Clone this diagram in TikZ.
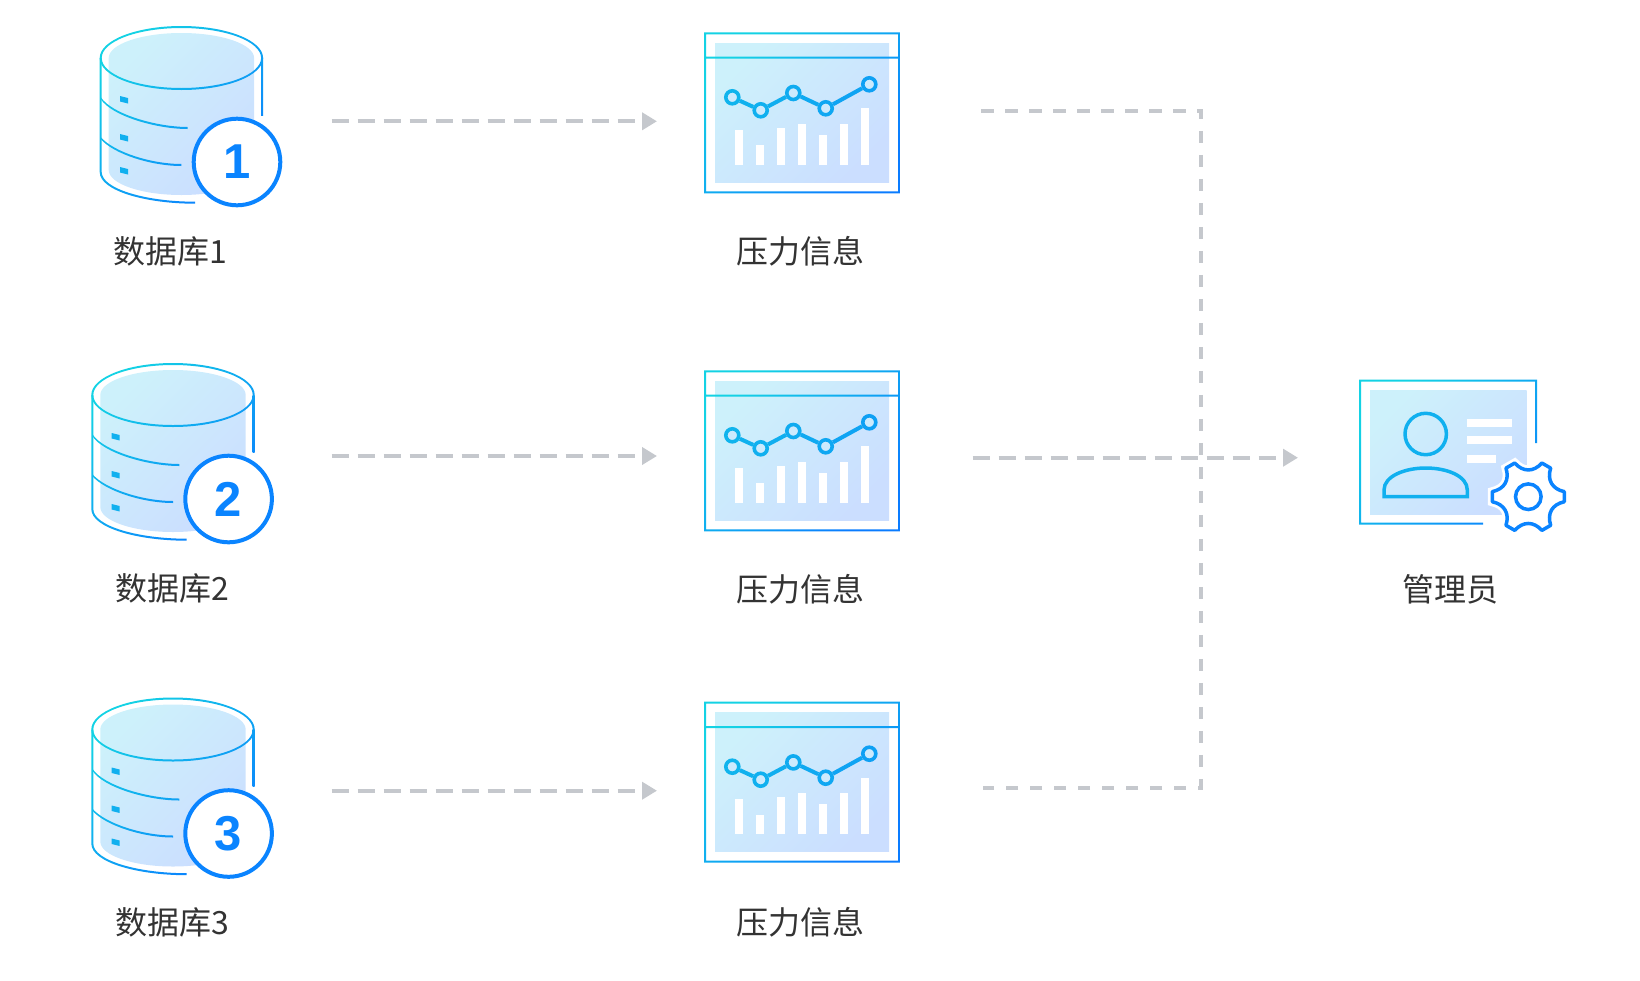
\documentclass[tikz,border=0pt]{standalone}
\usepackage{fontspec}
\setmainfont{Noto Sans CJK SC}
\newfontfamily\digitfont{Liberation Sans}
\usepackage{xcolor}
\usepackage{tikz}
\usetikzlibrary{arrows.meta, positioning}

\definecolor{strokeA}{HTML}{14D2E4}
\definecolor{strokeB}{HTML}{0A7CFF}
\definecolor{paleA}{HTML}{CDF1FB}
\definecolor{paleB}{HTML}{CBDEFF}
\definecolor{paleMid}{HTML}{CCEAFD}
\definecolor{badgeblue}{HTML}{0A84FF}
\definecolor{flowgray}{HTML}{C5C8CD}
\definecolor{inkgray}{HTML}{333333}

% gradient line: shade of box #1 seen through thin band #2
\newcommand{\inkband}[2]{\begin{scope}[even odd rule]\clip #2; \shade[inked] #1; \end{scope}}
\newcommand{\dbink}[1]{\inkband{(-90,-92) rectangle (90,92)}{#1}}

\tikzset{
  gearpath/.style={insert path={(8:36.3) \foreach \a in {0,60,...,300}{
    .. controls (\a+18:25) and (\a+42:25) .. (\a+52:36.3) -- (\a+68:36.3)} -- cycle}},
  pale/.style={top color=paleA, bottom color=paleB, shading angle=45},
  inked/.style={top color=strokeA, bottom color=strokeB, shading angle=45},
  spot/.style={circle, draw=strokeA!#1!strokeB, fill=paleMid, line width=3.6pt, inner sep=0pt, minimum size=13pt},
  trend/.style={draw=strokeA!#1!strokeB, line width=4pt},
  database/.pic={
    \shade[pale] (-72.7,-57) arc [start angle=180, end angle=360, x radius=72.7, y radius=25]
      -- (72.7,55) arc [start angle=0, end angle=180, x radius=72.7, y radius=25] -- cycle;
    \dbink{(0,-57) ellipse [x radius=81.7, y radius=32] (0,-57) ellipse [x radius=79.7, y radius=30]}
    \dbink{(-81.7,-57) -- (-81.7,57) .. controls (-81.7,76) and (-35,88.7) .. (13.6,88.7) -- (13.6,86.7)
      .. controls (-35,86.7) and (-79.7,74) .. (-79.7,57) -- (-79.7,-57) -- cycle}
    \dbink{(79.7,-57) rectangle (81.7,0)}
    \dbink{(-80.7,-18) .. controls (-70,-1) and (-25,12) .. (6.3,12) -- (6.3,14)
      .. controls (-25,14) and (-70,1) .. (-80.7,-16) -- cycle}
    \dbink{(-80.7,22) .. controls (-68,37) and (-30,49) .. (0,49) -- (0,51)
      .. controls (-30,51) and (-68,39) .. (-80.7,24) -- cycle}
    \foreach \dy in {0,38,71}
      \fill[strokeA!60!strokeB, yshift=-\dy] (-61.4,-19) -- (-53.4,-17) -- (-53.4,-11.5) -- (-61.4,-13.5) -- cycle;
    \node[circle, draw=badgeblue, line width=4pt, fill=white, minimum size=86.6pt, inner sep=0pt,
      text=badgeblue, font=\digitfont\fontsize{49}{49}\selectfont\bfseries] (-badge) at (55.6,47) {#1};
  },
  chart/.pic={
    \shade[pale] (-87,-69.5) rectangle (87,69.2);
    \foreach \t [count=\i from 0] in {17.2,32.5,15.2,11.2,21.9,11.2,-4.5}
      \fill[white] (-67.3+21*\i,\t) rectangle (-58.7+21*\i,52.2);
    \inkband{(-98,-81) rectangle (98,81)}{(-98,-80.5) rectangle (98,80.5) (-96,-78.5) rectangle (96,78.5)
      (-96,-56.1) rectangle (96,-54.1)}
    \node[spot=65] (-p1) at (-69.7,-15.5) {};
    \node[spot=60] (-p2) at (-41.3,-2.5) {};
    \node[spot=55] (-p3) at (-8.7,-19.8) {};
    \node[spot=50] (-p4) at (23.7,-4.5) {};
    \node[spot=42] (-p5) at (67.3,-28.5) {};
    \draw[trend=62] (-p1) -- (-p2);
    \draw[trend=58] (-p2) -- (-p3);
    \draw[trend=52] (-p3) -- (-p4);
    \draw[trend=46] (-p4) -- (-p5);
  },
  admincard/.pic={
    \shade[pale] (-93,-67) rectangle (63.7,57);
    \fill[white] (4,-37.7) rectangle (49,-29.7);
    \fill[white] (4,-21) rectangle (49,-13);
    \fill[white] (4,-2.3) rectangle (32.7,5.7);
    \inkband{(-108,-80) rectangle (108,80)}{(74,-14) -- (74,-77.3) -- (-104,-77.3) -- (-104,67.7) -- (20,67.7)
      -- (20,65.7) -- (-102,65.7) -- (-102,-75.3) -- (72,-75.3) -- (72,-14) -- cycle}
    \draw[strokeA!60!strokeB, line width=3.5pt] (-37.3,-23) circle [radius=20.7];
    \draw[strokeA!60!strokeB, line width=3.5pt] (-79,39.7) -- (-79,33) .. controls (-79,19) and (-58,11) .. (-37.3,11)
      .. controls (-16,11) and (4.3,19) .. (4.3,33) -- (4.3,39.7) -- cycle;
    \filldraw[white, line width=9pt, shift={(65.3,39.7)}, gearpath];
    \draw[badgeblue, fill=white, line width=3.5pt, line join=round, shift={(65.3,39.7)}, gearpath];
    \draw[badgeblue, line width=3.5pt] (65.3,39.7) circle [radius=12.8];
  },
}

\begin{document}
\begin{tikzpicture}[
  x=1pt, y=-1pt,
  dbbox/.style={minimum width=161.4pt, minimum height=176pt, inner sep=0pt, outer sep=0pt},
  chartbox/.style={minimum width=194pt, minimum height=159pt, inner sep=0pt, outer sep=0pt},
  adminbox/.style={minimum width=206pt, minimum height=156pt, inner sep=0pt, outer sep=0pt},
  caption/.style={text=inkgray, font=\fontsize{32}{34}\selectfont},
  flow/.style={draw=flowgray, line width=4pt, dash pattern=on 17pt off 9pt,
    -{Triangle[length=15pt, width=17pt, fill=flowgray]}},
  busline/.style={draw=flowgray, line width=4pt, dash pattern=on 12.5pt off 11.5pt},
]
\useasboundingbox (0,0) rectangle (1640,980);

% ===== databases =====
\node[dbbox] (db1) at (181.4,115) {};
\node[dbbox] (db2) at (173,452) {};
\node[dbbox] (db3) at (173,786.5) {};
\pic at (db1) {database=1};
\pic at (db2) {database=2};
\pic at (db3) {database=3};
\node[caption] (dblabel1) at (170,251) {数据库1};
\node[caption] (dblabel2) at (172,588) {数据库2};
\node[caption] (dblabel3) at (172,922.5) {数据库3};

% ===== pressure info =====
\node[chartbox] (chart1) at (802,112.8) {};
\node[chartbox] (chart2) at (802,450.8) {};
\node[chartbox] (chart3) at (802,782.2) {};
\pic at (chart1) {chart};
\pic at (chart2) {chart};
\pic at (chart3) {chart};
\node[caption] (chartlabel1) at (800.5,251) {压力信息};
\node[caption] (chartlabel2) at (800.5,589) {压力信息};
\node[caption] (chartlabel3) at (800.5,922.5) {压力信息};

% ===== admin =====
\node[adminbox] (admin) at (1463,457) {};
\pic at (admin) {admincard};
\node[caption] (adminlabel) at (1450,589) {管理员};

% ===== flows =====
\draw[flow] ([xshift=69.5,yshift=-6.3]db1.east) -- ([xshift=-48,yshift=-8.5]chart1.west);
\draw[flow] ([xshift=78,yshift=-4]db2.east) -- ([xshift=-48,yshift=-5.2]chart2.west);
\draw[flow] ([xshift=78,yshift=-4.2]db3.east) -- ([xshift=-48,yshift=-8.5]chart3.west);

\coordinate (bus) at (1201,457.7);
\draw[busline] ([xshift=82,yshift=2]chart1.east) -| (bus) |- ([xshift=84,yshift=-5.8]chart3.east);
\draw[flow] ([xshift=73.7,yshift=-6.9]chart2.east) -- ([xshift=-62,yshift=-0.7]admin.west);

\end{tikzpicture}
\end{document}
